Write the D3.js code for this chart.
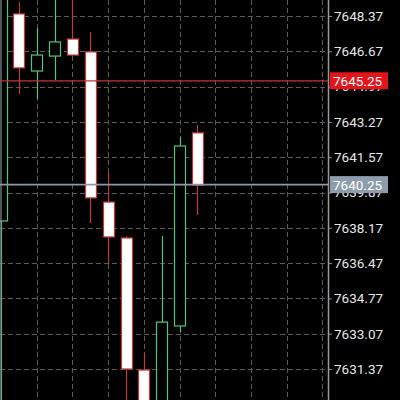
<!DOCTYPE html>
<html>
<head>
<meta charset="utf-8">
<script src="https://cdn.jsdelivr.net/npm/d3@7"></script>
<style>
  html, body { margin: 0; padding: 0; background: #000; }
  svg { display: block; }
</style>
</head>
<body>
<div id="chart"></div>
<script>
// candles, oldest first (leftmost one is cut off by the edge)
var opens  = [7638.50, 7648.47, 7645.72, 7646.44, 7647.26, 7646.64, 7639.41, 7637.68, 7631.32, 7628.60, 7633.44, 7642.74];
var highs  = [7651.00, 7649.04, 7647.79, 7649.40, 7649.40, 7647.60, 7640.86, 7637.77, 7632.14, 7637.77, 7642.54, 7643.12];
var lows   = [7628.00, 7644.61, 7644.37, 7645.29, 7646.45, 7638.40, 7636.43, 7629.50, 7627.50, 7628.00, 7633.15, 7638.79];
var closes = [7650.00, 7645.87, 7646.49, 7647.12, 7646.49, 7639.61, 7637.73, 7631.37, 7628.50, 7633.63, 7642.11, 7640.23];

var priceTicks = [7631.37, 7633.07, 7634.77, 7636.47, 7638.17, 7639.87, 7641.57, 7643.27, 7644.97, 7646.67, 7648.37];
var gridSlots = [2, 4, 6, 8, 10, 12, 14, 16, 18];

var askPrice = 7645.25;
var bidPrice = 7640.25;

var svgWidth = 400, svgHeight = 400;
var plotRight = 328;

var svg = d3.select("#chart").append("svg")
    .attr("width", svgWidth)
    .attr("height", svgHeight)
    .style("background", "#000");

// slot index -> x, price -> y
var xScale = d3.scaleLinear().domain([0, 18]).range([1.1, 322.4]);
var yScale = d3.scaleLinear().domain([7631.37, 7648.37]).range([369, 16]);

var bodyW = 11;
var green = "#52c47f", red = "#c2383a";

// dashed grid
svg.append("g").selectAll("line")
    .data(priceTicks)
    .enter().append("line")
    .attr("x1", 0).attr("x2", plotRight)
    .attr("y1", d => Math.round(yScale(d)) + 0.5)
    .attr("y2", d => Math.round(yScale(d)) + 0.5)
    .attr("stroke", "#5a5a5a")
    .attr("stroke-dasharray", "5,3");

svg.append("g").selectAll("line")
    .data(gridSlots)
    .enter().append("line")
    .attr("x1", d => Math.round(xScale(d)) + 0.5)
    .attr("x2", d => Math.round(xScale(d)) + 0.5)
    .attr("y1", 0).attr("y2", svgHeight)
    .attr("stroke", "#5a5a5a")
    .attr("stroke-dasharray", "5,3");

// candles
var candles = opens.map(function (o, i) {
    return { i: i, o: o, h: highs[i], l: lows[i], c: closes[i], up: closes[i] >= o };
});

var cg = svg.append("g").selectAll("g")
    .data(candles)
    .enter().append("g");

cg.append("line")
    .attr("x1", d => Math.round(xScale(d.i)) + 0.5)
    .attr("x2", d => Math.round(xScale(d.i)) + 0.5)
    .attr("y1", d => yScale(d.h))
    .attr("y2", d => yScale(d.l))
    .attr("stroke", d => d.up ? green : red)
    .attr("stroke-width", 1.2);

cg.append("rect")
    .attr("x", d => Math.round(xScale(d.i) - bodyW / 2) + 0.5)
    .attr("y", d => yScale(Math.max(d.o, d.c)))
    .attr("width", bodyW)
    .attr("height", d => Math.abs(yScale(d.o) - yScale(d.c)))
    .attr("fill", d => d.up ? "#000" : "#fff")
    .attr("stroke", d => d.up ? green : red)
    .attr("stroke-width", 1.2);

// left border
svg.append("line")
    .attr("x1", 1).attr("x2", 1)
    .attr("y1", 0).attr("y2", svgHeight)
    .attr("stroke", "#8a8f94").attr("stroke-width", 1.2);

// price axis on the right
var yAxis = d3.axisRight(yScale)
    .tickValues(priceTicks)
    .tickSize(4)
    .tickPadding(2)
    .tickFormat(d3.format(".2f"));

var axisG = svg.append("g")
    .attr("transform", `translate(${plotRight},0)`)
    .call(yAxis);

axisG.select(".domain").remove();
axisG.selectAll(".tick line").attr("stroke", "#888");
axisG.selectAll(".tick text")
    .attr("fill", "#e6e6e6")
    .style("font-family", "Roboto, sans-serif")
    .style("font-size", "13.5px");

svg.append("line")
    .attr("x1", plotRight + 0.5).attr("x2", plotRight + 0.5)
    .attr("y1", 0).attr("y2", svgHeight)
    .attr("stroke", "#9a9a9a").attr("stroke-width", 1.5);

// ask / bid lines with price tags
var levels = [
    { p: askPrice, line: "#c0353a", tag: "#e5141b", w: 1.2 },
    { p: bidPrice, line: "#8c98a6", tag: "#8e9cab", w: 1.6 }
];

levels.forEach(function (lv) {
    var y = yScale(lv.p);
    svg.append("line")
        .attr("x1", 0).attr("x2", plotRight)
        .attr("y1", y).attr("y2", y)
        .attr("stroke", lv.line)
        .attr("stroke-width", lv.w);
    svg.append("rect")
        .attr("x", 330).attr("y", y - 8.5)
        .attr("width", 58).attr("height", 17)
        .attr("fill", lv.tag);
    svg.append("text")
        .attr("x", 333).attr("y", y + 5)
        .attr("fill", "#fff")
        .style("font-family", "Roboto, sans-serif")
        .style("font-size", "13.5px")
        .text(lv.p.toFixed(2));
});
</script>
</body>
</html>
